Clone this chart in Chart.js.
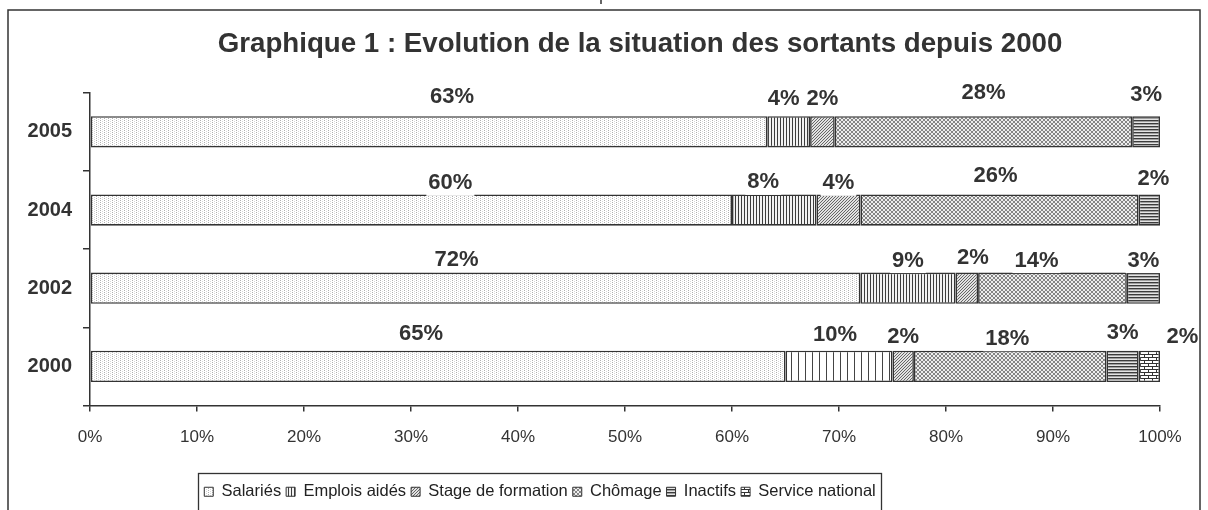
<!DOCTYPE html>
<html><head><meta charset="utf-8">
<script src="https://cdn.jsdelivr.net/npm/chart.js@4.4.1/dist/chart.umd.min.js"></script>
<style>html,body{margin:0;padding:0;background:#fff}#wrap{width:1208px;height:510px;position:relative}canvas{display:block}</style>
</head><body><div id="wrap"><canvas id="c" width="1208" height="510"></canvas></div>
<script>
// ---------- data ----------
const chartTitle = 'Graphique 1 : Evolution de la situation des sortants depuis 2000';
const years = ['2005', '2004', '2002', '2000'];
const seriesNames = ['Salariés', 'Emplois aidés', 'Stage de formation', 'Chômage', 'Inactifs', 'Service national'];
const salaries = [63.3, 60.0, 72.0, 65.0];
const emploisAides = [4.0, 7.9, 8.9, 10.0];
const stageFormation = [2.3, 4.1, 2.1, 2.0];
const chomage = [27.8, 26.0, 13.9, 18.0];
const inactifs = [2.6, 2.0, 3.1, 3.0];
const serviceNational = [null, null, null, 2.0];
const xTickValues = [0, 10, 20, 30, 40, 50, 60, 70, 80, 90, 100];

// ---------- styles ----------
const FONT = "'Liberation Sans', Arial, sans-serif";
const INK = '#333333';
Chart.defaults.font.family = FONT;
Chart.defaults.color = INK;

function makePattern(w, h, paint) {
  const c = document.createElement('canvas');
  c.width = w; c.height = h;
  const g = c.getContext('2d');
  paint(g);
  return g.createPattern(c, 'repeat');
}
const pDots = makePattern(4, 2, g => {
  g.fillStyle = '#fff'; g.fillRect(0, 0, 4, 2);
  g.fillStyle = '#b0b0b0'; g.fillRect(0, 0, 1, 1);
  g.fillStyle = '#d8d8d8'; g.fillRect(2, 1, 1, 1);
});
const pVert = makePattern(3, 1, g => {
  g.fillStyle = '#f2f2f2'; g.fillRect(0, 0, 3, 1);
  g.fillStyle = '#3c3c3c'; g.fillRect(0, 0, 1, 1);
});
const pVertWide = makePattern(7, 1, g => {
  g.fillStyle = '#fff'; g.fillRect(0, 0, 7, 1);
  g.fillStyle = '#444'; g.fillRect(0, 0, 1, 1);
});
const pDiag = makePattern(3, 3, g => {
  g.fillStyle = '#e2e2e2'; g.fillRect(0, 0, 3, 3);
  g.fillStyle = '#666';
  g.fillRect(0, 2, 1, 1); g.fillRect(1, 1, 1, 1); g.fillRect(2, 0, 1, 1);
});
const pCross = makePattern(4, 4, g => {
  g.fillStyle = '#eeeeee'; g.fillRect(0, 0, 4, 4);
  g.fillStyle = '#858585';
  [[0,0],[1,1],[2,2],[3,3],[3,0],[2,1],[1,2],[0,3]].forEach(([x, y]) => g.fillRect(x, y, 1, 1));
});
const pHoriz = makePattern(1, 3, g => {
  g.fillStyle = '#3c3c3c'; g.fillRect(0, 0, 1, 1);
  g.fillStyle = '#a0a0a0'; g.fillRect(0, 1, 1, 1);
  g.fillStyle = '#e4e4e4'; g.fillRect(0, 2, 1, 1);
});
const pBrick = makePattern(8, 6, g => {
  g.fillStyle = '#fff'; g.fillRect(0, 0, 8, 6);
  g.fillStyle = '#333';
  g.fillRect(0, 0, 8, 1); g.fillRect(0, 3, 8, 1);
  g.fillRect(0, 0, 1, 3); g.fillRect(4, 3, 1, 3);
});

// label nudges (pixels) keyed "dataset-index"
const labelNudges = {
  '0-0': [23, -20], '1-0': [-5, -18], '2-0': [0, -18], '3-0': [0, -24], '4-0': [0, -22],
  '0-1': [39, -12], '1-1': [-11, -13], '2-1': [0, -12], '3-1': [-4, -19], '4-1': [4, -16],
  '0-2': [-19, -14], '1-2': [0, -13], '2-2': [6, -16], '3-2': [-16, -13], '4-2': [0, -13],
  '0-3': [-17, -18], '1-3': [-4, -17], '2-3': [0, -15], '3-3': [-3, -13], '4-3': [0, -19], '5-3': [33, -15]
};

const valueLabels = {
  id: 'valueLabels',
  afterDatasetsDraw(chart) {
    const ctx = chart.ctx;
    ctx.save();
    ctx.font = "bold 22px " + FONT;
    ctx.textAlign = 'center';
    ctx.textBaseline = 'middle';
    chart.data.datasets.forEach((ds, di) => {
      const meta = chart.getDatasetMeta(di);
      meta.data.forEach((bar, i) => {
        const v = ds.data[i];
        if (v === null || v === undefined) return;
        const p = bar.getProps(['x', 'y', 'base', 'height'], true);
        const nudge = labelNudges[di + '-' + i] || [0, -15];
        const cx = (p.x + p.base) / 2 + nudge[0];
        const cy = p.y - p.height / 2 + nudge[1];
        const txt = Math.round(v) + '%';
        const w = ctx.measureText(txt).width;
        ctx.fillStyle = '#fff';
        ctx.fillRect(cx - w / 2 - 2, cy - 13.5, w + 4, 27);
        ctx.fillStyle = INK;
        ctx.fillText(txt, cx, cy + 1);
      });
    });
    ctx.restore();
  }
};

const frames = {
  id: 'frames',
  afterLayout(chart) {
    const lg = chart.legend;
    if (lg) { lg.left -= 40; lg.right -= 40; }
    const tb = chart.titleBlock;
    if (tb) { tb.left += 60; tb.right += 60; }
  },
  afterDraw(chart) {
    const ctx = chart.ctx;
    ctx.save();
    ctx.strokeStyle = INK;
    ctx.lineWidth = 1.5;
    ctx.strokeRect(8, 10, 1192, 600);
    ctx.beginPath(); ctx.moveTo(601, 0); ctx.lineTo(601, 4); ctx.stroke();
    const hb = chart.legend.legendHitBoxes;
    if (hb && hb.length) {
      const l = Math.min(...hb.map(h => h.left)) - 6;
      const r = Math.max(...hb.map(h => h.left + h.width)) + 6;
      const t = hb[0].top - 11;
      ctx.lineWidth = 1.3;
      ctx.strokeRect(Math.round(l) + 0.5, Math.round(t) + 0.5, Math.round(r - l), 200);
    }
    ctx.restore();
  }
};

const seriesValues = [salaries, emploisAides, stageFormation, chomage, inactifs, serviceNational];
const seriesFills = [
  pDots,
  c => (c.type === 'data' && c.dataIndex === 3) ? pVertWide : pVert,
  pDiag, pCross, pHoriz, pBrick
];

new Chart(document.getElementById('c'), {
  type: 'bar',
  data: {
    labels: years,
    datasets: seriesNames.map((name, k) => ({
      label: name,
      data: seriesValues[k],
      backgroundColor: seriesFills[k],
      borderColor: INK,
      borderWidth: 1.6,
      borderSkipped: false,
      barPercentage: 0.4,
      categoryPercentage: 1.0
    }))
  },
  options: {
    indexAxis: 'y',
    responsive: false,
    animation: false,
    devicePixelRatio: 1,
    events: [],
    layout: { padding: { left: 0, right: 48, top: 0, bottom: 0 } },
    plugins: {
      title: {
        display: true, text: chartTitle, color: INK,
        font: { family: FONT, size: 27.7, weight: 'bold' },
        padding: { top: 28, bottom: 31.5 }
      },
      legend: {
        display: true, position: 'bottom', align: 'center',
        labels: {
          color: '#222', boxWidth: 9, boxHeight: 9, padding: 5,
          font: { family: FONT, size: 16.5 },
          generateLabels(chart) {
            const items = Chart.defaults.plugins.legend.labels.generateLabels(chart);
            items.forEach(it => { it.lineWidth = 1; it.strokeStyle = INK; });
            return items;
          }
        }
      },
      tooltip: { enabled: false }
    },
    scales: {
      x: {
        stacked: true, min: 0, max: 100,
        afterBuildTicks(s) { s.ticks = xTickValues.map(v => ({ value: v })); },
        ticks: { callback: v => v + '%', color: INK, font: { family: FONT, size: 17 }, padding: 16, maxRotation: 0, autoSkip: false },
        grid: { drawOnChartArea: false, drawTicks: true, tickLength: 6, color: INK, lineWidth: 1.5 },
        border: { display: true, color: INK, width: 1.5 },
        afterFit(s) { s.height = 73; }
      },
      y: {
        stacked: true,
        ticks: { color: INK, font: { family: FONT, size: 20, weight: 'bold' }, padding: 11 },
        grid: { offset: true, drawOnChartArea: false, drawTicks: true, tickLength: 7, color: INK, lineWidth: 1.5 },
        border: { display: true, color: INK, width: 1.5 },
        afterFit(s) { s.width = 90; }
      }
    }
  },
  plugins: [valueLabels, frames]
});
</script>
</body></html>
